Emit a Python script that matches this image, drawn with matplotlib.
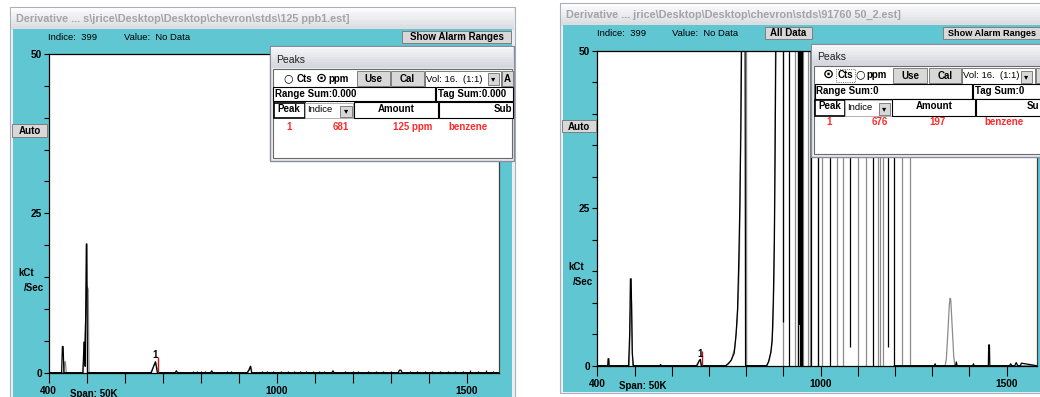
import matplotlib
matplotlib.use("Agg")
import matplotlib.pyplot as plt
from matplotlib.patches import Rectangle

W, H = 1040, 397
CYAN = "#60c7d2"
TRACE_GRAY = "#8c8c8c"
RED = "#ff2a2a"
FONT = ["Liberation Sans", "DejaVu Sans"]

# ---- values ----
x_ticks = [400, 500, 600, 700, 800, 900, 1000, 1100, 1200, 1300, 1400, 1500]
x_tick_labels = ["400", "", "", "", "", "", "1000", "", "", "", "", "1500"]
y_ticks = [0, 5, 10, 15, 20, 25, 30, 35, 40, 45, 50]
y_tick_labels = ["0", "", "", "", "", "25", "", "", "", "", "50"]

# left window (125 ppb1)
left_black_x = [400, 434, 436, 438, 440, 490, 493, 494, 496, 499, 500.5, 502, 670, 676, 681, 686,
                733, 736, 739, 826, 829, 832, 922, 927, 931, 934, 1145, 1148, 1151,
                1320, 1323, 1327, 1330, 1585]
left_black_y = [0, 0, 4.1, 4.1, 0, 0, 4.8, 4.8, 1.0, 20.2, 20.2, 0, 0, 1.0, 1.7, 0,
                0, 0.3, 0, 0, 0.3, 0, 0, 0.4, 1.0, 0, 0, 0.3, 0,
                0, 0.4, 0.4, 0, 0]
left_gray_x = [400, 440, 442, 444, 446, 490, 492, 494, 497, 501, 504, 506,
               668, 675, 681, 687, 690, 924, 929, 932, 935, 1585]
left_gray_y = [0, 0, 1.7, 1.7, 0, 0, 2.0, 4.8, 8.0, 13.5, 13.1, 0,
               0, 0.8, 1.7, 0.2, 0, 0, 0.8, 1.0, 0, 0]
left_noise_x = [780, 790, 800, 812, 870, 880, 960, 975, 990, 1010, 1030, 1045, 1062, 1078,
                1095, 1110, 1125, 1180, 1200, 1215, 1240, 1262, 1280, 1300, 1350, 1368,
                1390, 1410, 1430, 1450, 1470, 1490, 1510, 1530, 1550, 1570]
left_noise_y = [0.2, 0.3, 0.2, 0.3, 0.2, 0.3, 0.2, 0.3, 0.2, 0.2, 0.3, 0.2, 0.3, 0.2,
                0.3, 0.2, 0.3, 0.2, 0.3, 0.2, 0.3, 0.2, 0.3, 0.2, 0.3, 0.2,
                0.3, 0.2, 0.3, 0.2, 0.3, 0.3, 0.4, 0.3, 0.4, 0.3]
left_marker = (688.6, 2.4)
left_label = (681, 2.75)

# right window (91760 50_2)
right_black_x = [400, 428, 429, 431, 432, 484, 487, 489, 491, 494, 497, 568, 570, 572,
                 668, 674, 677, 680, 745, 752, 760, 768, 773, 777, 780, 783, 786, 789,
                 797, 798.5, 855, 860, 866, 870, 873, 876, 878, 881]
right_black_y = [0, 0, 1.1, 1.1, 0, 0, 5.0, 13.8, 13.8, 2.0, 0, 0, 0.2, 0,
                 0, 0.8, 1.0, 0, 0, 0.3, 0.9, 2.0, 5.0, 9.0, 16, 25, 38, 60,
                 60, 0, 0, 0.6, 2.0, 4.0, 10, 20, 35, 60]
right_black_tail_x = [1198, 1306, 1308, 1310, 1363, 1365, 1367, 1409, 1411, 1413,
                      1451, 1452, 1454, 1455, 1508, 1511, 1514, 1522, 1526, 1530, 1537, 1540, 1581]
right_black_tail_y = [0, 0, 0.3, 0, 0, 0.6, 0, 0, 0.3, 0,
                      0, 3.3, 3.3, 0, 0, 0.3, 0, 0, 0.5, 0, 0, 0.4, 0]
right_black_walls = [899, 916, 940, 945, 950, 974, 992, 1026, 1080, 1140, 1180, 1198]
right_black_floor = [7.0, 0, 0, 6.5, 0, 0, 0, 0, 3.0, 0, 3.0, 0]
right_gray_x = [400, 486, 488, 490, 492, 495, 665, 672, 676, 679, 745, 760, 770, 776,
                779, 782, 784, 786, 788, 801, 801.5, 856, 862, 868, 872, 875, 877, 880]
right_gray_y = [0, 0, 6.0, 10.2, 10.2, 0, 0, 0.6, 1.0, 0, 0, 0.8, 3.0, 7.0,
                11, 17, 28, 45, 60, 60, 0, 0, 0.8, 2.5, 6.0, 14, 30, 60]
right_gray_walls = [899, 931, 940, 953, 966, 972, 992, 1003, 1043.5, 1061, 1101.6,
                    1122, 1155, 1160, 1167, 1218, 1240.6]
right_gray_floor = [0, 0, 0, 0, 0, 0, 0, 0, 0, 0, 0, 0, 0, 0, 0, 0, 0]
right_gray_tail_x = [1240.6, 1335, 1338, 1342, 1346, 1348, 1350, 1354, 1358, 1361, 1581]
right_gray_tail_y = [0, 0, 1.0, 5.0, 9.5, 10.7, 10.5, 6.0, 1.5, 0, 0]
right_marker = (682, 2.4)
right_label = (676, 1.9)

left_peak_row = ["1", "681", "125 ppm", "benzene"]
right_peak_row = ["1", "676", "197", "benzene"]

fig = plt.figure(figsize=(W / 100, H / 100), dpi=100)
fig.patch.set_facecolor("white")


def rect(x0, y0, x1, y1, fc, ec="none", lw=0.8, z=1, ls="-"):
    fig.add_artist(Rectangle((x0 / W, 1 - y1 / H), (x1 - x0) / W, (y1 - y0) / H,
                             transform=fig.transFigure, facecolor=fc, edgecolor=ec,
                             linewidth=lw, zorder=z, linestyle=ls))


def txt(x, y, s, size=7, weight="bold", color="black", ha="left", z=10, family=FONT):
    fig.text(x / W, 1 - y / H, s, fontsize=size, fontweight=weight, color=color,
             ha=ha, va="center", family=family, zorder=z)


def gradient_bar(x0, y0, x1, y1, top, bottom, z):
    n = 8
    t = [int(top[i:i + 2], 16) for i in (1, 3, 5)]
    b = [int(bottom[i:i + 2], 16) for i in (1, 3, 5)]
    for k in range(n):
        c = "#%02x%02x%02x" % tuple(int(t[j] + (b[j] - t[j]) * k / (n - 1)) for j in range(3))
        rect(x0, y0 + (y1 - y0) * k / n, x1, y0 + (y1 - y0) * (k + 1) / n + 0.5, c, z=z)


def button(x0, y0, x1, y1, label, z=12, size=7):
    rect(x0, y0, x1, y1, "#d8d8d8", ec="#7f7f7f", lw=0.7, z=z)
    if label:
        txt((x0 + x1) / 2, (y0 + y1) / 2 + 0.5, label, size=size, ha="center", z=z + 1)


def window(x0, x1, bottom, title_y0, title_y1, cyan_y0, title):
    rect(x0 - 1, title_y0 - 1, x1 + 1, bottom, "#eef0f4", ec="#aab0bb", lw=0.8, z=-3)
    gradient_bar(x0, title_y0, x1, title_y1, "#fbfbfc", "#dcdde2", z=-2.5)
    txt(x0 + 5, (title_y0 + title_y1) / 2 + 0.5, title, size=7.8, color="#a4a4a8", z=-2)
    rect(x0 + 2, cyan_y0, x1 - 2, bottom - 1, CYAN, z=-2)


def popup(x0, y0, x1, y1, bar_y1, title_y, body):
    rect(x0, y0, x1, y1, "#eceef3", ec="#8a8c9c", lw=1.0, z=6)
    gradient_bar(x0 + 1, y0 + 1, x1 - 1, bar_y1, "#f6f6f9", "#d6d7df", z=6.5)
    txt(x0 + 6, title_y, "Peaks", size=7.5, weight="normal", color="#222222")
    rect(body[0], body[1], body[2], body[3], "white", ec="#6a6a6a", lw=0.8, z=7)


def setup_axes(ax, xmax):
    ax.set_xlim(400, xmax)
    ax.set_ylim(0, 50)
    ax.set_facecolor("white")
    ax.set_xticks(x_ticks)
    ax.set_xticklabels(x_tick_labels)
    ax.set_yticks(y_ticks)
    ax.set_yticklabels(y_tick_labels)
    ax.tick_params(axis="x", direction="out", length=7, width=0.8, pad=2.5, labelsize=7.3)
    ax.tick_params(axis="y", direction="out", length=3.5, width=0.8, pad=1.5, labelsize=7.3)
    for lab in ax.get_xticklabels() + ax.get_yticklabels():
        lab.set_fontweight("bold")
        lab.set_family(FONT)
    for s in ("left", "bottom", "top"):
        ax.spines[s].set_color("black")
        ax.spines[s].set_linewidth(0.9)
    ax.spines["right"].set_color("#404040")
    ax.spines["right"].set_linewidth(0.9)


# ---------------- left window ----------------
window(11, 514, 399, 8, 29, 29,
       "Derivative ... s\\jrice\\Desktop\\Desktop\\chevron\\stds\\125 ppb1.est]")
txt(48, 37, "Indice:  399", size=6.8, weight="normal")
txt(124, 37, "Value:  No Data", size=6.8, weight="normal")
button(402, 31, 511, 43, "Show Alarm Ranges")
button(12, 124, 47, 137, "Auto")
txt(18, 273, "kCt")
txt(24, 288, "/Sec")
txt(70, 394, "Span: 50K")

ax1 = fig.add_axes([48.7 / W, 1 - 372.7 / H, (499 - 48.7) / W, (372.7 - 54) / H])
setup_axes(ax1, 1585)
ax1.plot(left_gray_x, left_gray_y, color=TRACE_GRAY, lw=0.9)
ax1.plot(left_black_x, left_black_y, color="black", lw=0.9)
ax1.vlines(left_noise_x, 0, left_noise_y, color="black", lw=0.9)
ax1.vlines(left_marker[0], 0, left_marker[1], color="#c01818", lw=1.0)
ax1.text(left_label[0], left_label[1], "1", fontsize=7, fontweight="bold", ha="center",
         va="center", family=FONT)

popup(270, 46, 514, 161, 67, 60, (273, 69, 512, 158))
txt(288, 78.5, "\u25cb", size=7.8, ha="center", family="DejaVu Sans")
txt(297, 79, "Cts")
txt(321, 78.5, "\u2299", size=9.5, ha="center", family="DejaVu Sans")
txt(328, 79, "ppm")
button(357, 71, 390, 86, "Use")
button(391, 71, 424, 86, "Cal")
rect(425, 71, 501, 87, "white", ec="#7a7a7a", lw=0.7, z=12)
txt(426, 79, "Vol: 16.  (1:1)", size=6.8, weight="normal", z=13)
button(488, 73, 499, 85, "\u25be", z=13, size=6)
button(502, 71, 513, 86, "A")
rect(273, 87, 435, 101, "white", ec="black", lw=0.8, z=12)
txt(275, 94, "Range Sum:0.000", z=13)
rect(436, 87, 513, 101, "white", ec="black", lw=0.8, z=12)
txt(438, 94, "Tag Sum:0.000", z=13)
rect(274, 103, 305, 118, "white", ec="black", lw=1.2, z=12)
txt(289, 109, "Peak", ha="center", z=13)
rect(305, 103, 353, 118, "white", ec="#b0b0b0", lw=0.7, z=12)
txt(307, 110, "Indice", size=6.8, weight="normal", z=13)
button(340, 106, 352, 117, "\u25be", z=13, size=6)
rect(354, 102, 438, 118, "white", ec="black", lw=0.8, z=12)
txt(396, 109, "Amount", ha="center", z=13)
rect(439, 102, 513, 118, "white", ec="black", lw=0.8, z=12)
txt(512, 109, "Sub", ha="right", z=13)
for xpos, s in zip([289, 341, 413, 468], left_peak_row):
    txt(xpos, 127, s, color=RED, ha="center", z=13)

# ---------------- right window ----------------
window(561, 1042, 393, 4, 25, 25,
       "Derivative ... jrice\\Desktop\\Desktop\\chevron\\stds\\91760 50_2.est]")
txt(597, 33, "Indice:  399", size=6.8, weight="normal")
txt(672, 33, "Value:  No Data", size=6.8, weight="normal")
button(765, 27, 812, 39, "All Data")
button(943, 27, 1044, 39, "")
txt(948, 33.5, "Show Alarm Ranges", size=6.6, z=13)
button(562, 120, 596, 132, "Auto")
txt(568, 267, "kCt")
txt(573, 282, "/Sec")
txt(619, 386, "Span: 50K")

ax2 = fig.add_axes([597.3 / W, 1 - 365.7 / H, (1036.7 - 597.3) / W, (365.7 - 51) / H])
setup_axes(ax2, 1581)
ax2.plot(right_gray_x, right_gray_y, color=TRACE_GRAY, lw=0.9)
ax2.vlines(right_gray_walls, right_gray_floor, 50, color=TRACE_GRAY, lw=0.9)
ax2.plot(right_gray_tail_x, right_gray_tail_y, color=TRACE_GRAY, lw=0.9)
ax2.plot(right_black_x, right_black_y, color="black", lw=0.9)
ax2.vlines(right_black_walls, right_black_floor, 50, color="black", lw=0.9)
ax2.vlines([945, 947], [6.5, 0], 50, color="black", lw=1.6)
ax2.plot(right_black_tail_x, right_black_tail_y, color="black", lw=0.9)
ax2.vlines(right_marker[0], 0, right_marker[1], color="#c01818", lw=1.0)
ax2.text(right_label[0], right_label[1], "1", fontsize=7, fontweight="bold", ha="center",
         va="center", family=FONT)

popup(811, 44, 1044, 157, 65, 57, (814, 66, 1044, 154))
txt(828, 74.5, "\u2299", size=9.5, ha="center", family="DejaVu Sans")
rect(836, 69, 855, 82, "none", ec="#404040", lw=0.6, z=13, ls=":")
txt(838, 75, "Cts")
txt(860, 74.5, "\u25cb", size=7.8, ha="center", family="DejaVu Sans")
txt(866, 75, "ppm")
button(893, 68, 927, 83, "Use")
button(929, 68, 961, 83, "Cal")
rect(962, 68, 1035, 84, "white", ec="#7a7a7a", lw=0.7, z=12)
txt(963, 76, "Vol: 16.  (1:1)", size=6.8, weight="normal", z=13)
button(1021, 71, 1032, 83, "\u25be", z=13, size=6)
button(1036, 68, 1046, 83, "")
rect(815, 84, 972, 99, "white", ec="black", lw=0.8, z=12)
txt(816, 91.5, "Range Sum:0", z=13)
rect(973, 84, 1044, 99, "white", ec="black", lw=0.8, z=12)
txt(975, 91.5, "Tag Sum:0", z=13)
rect(815, 100, 845, 116, "white", ec="black", lw=1.2, z=12)
txt(830, 106, "Peak", ha="center", z=13)
rect(845, 100, 892, 116, "white", ec="#b0b0b0", lw=0.7, z=12)
txt(847, 107, "Indice", size=6.8, weight="normal", z=13)
button(879, 103, 890, 115, "\u25be", z=13, size=6)
rect(892, 99, 975, 116, "white", ec="black", lw=0.8, z=12)
txt(934, 106, "Amount", ha="center", z=13)
rect(976, 99, 1044, 116, "white", ec="black", lw=0.8, z=12)
txt(1039, 106, "Su", ha="right", z=13)
for xpos, s in zip([829, 880, 938, 1004], right_peak_row):
    txt(xpos, 122, s, color=RED, ha="center", z=13)

fig.savefig("out.png", dpi=100)
